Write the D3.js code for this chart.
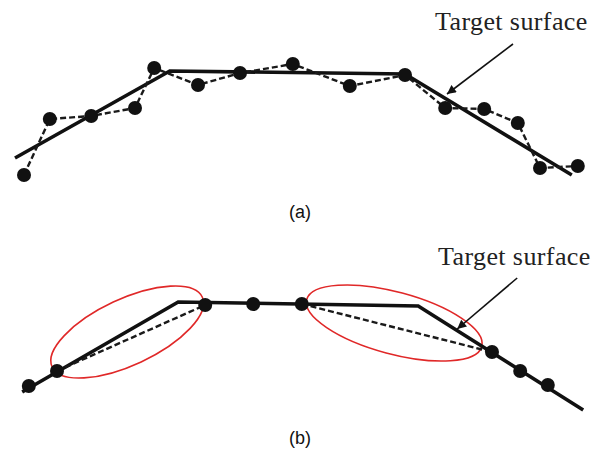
<!DOCTYPE html>
<html><head><meta charset="utf-8">
<script src="https://cdn.jsdelivr.net/npm/d3@7"></script>
<style>html,body{margin:0;padding:0;background:#fff;}svg{display:block;}</style>
</head><body>
<script>
// ---- data (x: position along part 0-100, h: height units) ----
const targetA_x = [2.5, 28.3, 67.5, 95.3];
const targetA_h = [6.4, 23.8, 23.2, 3.0];
const pointsA_x = [4.0, 8.3, 15.2, 22.5, 25.7, 33.0, 40.0, 48.8, 58.3, 67.5, 74.2, 80.7, 86.3, 90.0, 96.3];
const pointsA_h = [3.0, 14.2, 14.8, 16.4, 24.4, 21.0, 23.4, 25.2, 20.8, 23.0, 16.4, 16.2, 13.4, 4.4, 4.8];

const targetB_x = [3.7, 29.7, 69.7, 97.2];
const targetB_h = [4.6, 22.6, 21.8, 1.0];
const pointsB_x = [4.8, 9.5, 34.2, 42.2, 50.3, 82.0, 86.7, 91.3];
const pointsB_h = [5.8, 8.8, 22.0, 22.2, 22.2, 12.6, 8.8, 6.0];
const chordsB = [[1, 2], [4, 5]];               // dashed chords between points
const ellipse_cx = [21.2, 65.7];
const ellipse_ch = [16.6, 18.4];
const ellipse_rx = [13.8, 15.1];
const ellipse_ry = [6.6, 6.2];
const ellipse_angle = [-25, 15];

const labelText = "Target surface";
const arrowA = {x1: 85.5, h1: 29.2, x2: 74.5, h2: 19.2};
const arrowB = {x1: 86.2, h1: 27.4, x2: 76.2, h2: 17.2};
const labelA = {x: 72.5, h: 32.0};
const labelB = {x: 73.0, h: 30.0};
const panelLabels = ["(a)", "(b)"];

// ---- drawing ----
const W = 600, H = 452;
const svg = d3.select("body").append("svg").attr("width", W).attr("height", H);
const defs = svg.append("defs");
defs.append("marker").attr("id", "ah").attr("viewBox", "0 0 10 10")
  .attr("refX", 10).attr("refY", 5).attr("markerWidth", 11).attr("markerHeight", 9)
  .attr("markerUnits", "userSpaceOnUse").attr("orient", "auto")
  .append("path").attr("d", "M0,0 L10,5 L0,10 Z").attr("fill", "#111");

const x = d3.scaleLinear().domain([0, 100]).range([0, 600]);
const yA = d3.scaleLinear().domain([0, 30]).range([190, 40]);
const yB = d3.scaleLinear().domain([0, 30]).range([415, 265]);

function prep(y, tx, th, px, ph) {
  const line = d3.line().x(d => x(d[0])).y(d => y(d[1]));
  const tgt = tx.map((v, i) => [v, th[i]]);
  const pts = px.map((v, i) => [v, ph[i]]);
  return {line, tgt, pts};
}
function targetLabel(g, px, py) {
  g.append("text").attr("x", px).attr("y", py)
    .attr("font-family", "Liberation Serif, Times New Roman, serif").attr("font-size", 26)
    .attr("letter-spacing", 0.4).attr("fill", "#222").text(labelText);
}
function panelLabel(txt, py) {
  svg.append("text").attr("x", 300).attr("y", py).attr("text-anchor", "middle")
    .attr("font-family", "Liberation Sans, Arial, sans-serif").attr("font-size", 18)
    .attr("fill", "#111").text(txt);
}

// Panel A
const gA = svg.append("g");
const pa = prep(yA, targetA_x, targetA_h, pointsA_x, pointsA_h);
gA.append("path").attr("d", pa.line(pa.tgt)).attr("fill", "none")
  .attr("stroke", "#111").attr("stroke-width", 3.6).attr("stroke-linejoin", "miter");
gA.append("path").attr("d", pa.line(pa.pts)).attr("fill", "none")
  .attr("stroke", "#1a1a1a").attr("stroke-width", 2.4).attr("stroke-dasharray", "6,3");
gA.selectAll("circle").data(pa.pts).join("circle")
  .attr("cx", d => x(d[0])).attr("cy", d => yA(d[1])).attr("r", 7).attr("fill", "#111");
gA.append("line").attr("x1", x(arrowA.x1)).attr("y1", yA(arrowA.h1))
  .attr("x2", x(arrowA.x2)).attr("y2", yA(arrowA.h2))
  .attr("stroke", "#111").attr("stroke-width", 1.6).attr("marker-end", "url(#ah)");
targetLabel(gA, x(labelA.x), yA(labelA.h));
panelLabel(panelLabels[0], 218);

// Panel B
const gB = svg.append("g");
const pb = prep(yB, targetB_x, targetB_h, pointsB_x, pointsB_h);
ellipse_cx.forEach((cx, i) => {
  const rxPx = x(ellipse_rx[i]) - x(0);
  const ryPx = yB(0) - yB(ellipse_ry[i]);
  gB.append("ellipse")
    .attr("transform", `translate(${x(cx)},${yB(ellipse_ch[i])}) rotate(${ellipse_angle[i]})`)
    .attr("rx", rxPx).attr("ry", ryPx).attr("fill", "none")
    .attr("stroke", "#e02828").attr("stroke-width", 1.6);
});
gB.append("path").attr("d", pb.line(pb.tgt)).attr("fill", "none")
  .attr("stroke", "#111").attr("stroke-width", 3.6);
chordsB.forEach(([a, b]) => {
  gB.append("path").attr("d", pb.line([pb.pts[a], pb.pts[b]])).attr("fill", "none")
    .attr("stroke", "#1a1a1a").attr("stroke-width", 2.4).attr("stroke-dasharray", "6,3");
});
gB.selectAll("circle").data(pb.pts).join("circle")
  .attr("cx", d => x(d[0])).attr("cy", d => yB(d[1])).attr("r", 7).attr("fill", "#111");
gB.append("line").attr("x1", x(arrowB.x1)).attr("y1", yB(arrowB.h1))
  .attr("x2", x(arrowB.x2)).attr("y2", yB(arrowB.h2))
  .attr("stroke", "#111").attr("stroke-width", 1.6).attr("marker-end", "url(#ah)");
targetLabel(gB, x(labelB.x), yB(labelB.h));
panelLabel(panelLabels[1], 444);
</script>
</body></html>
